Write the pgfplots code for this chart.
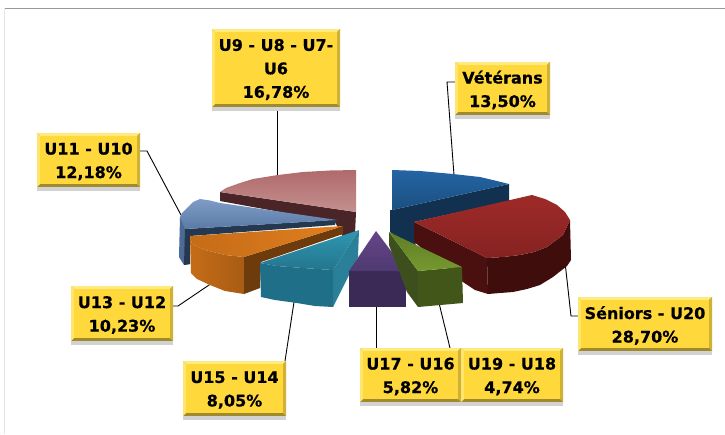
\documentclass[border=0pt]{standalone}
\usepackage{pgfplots}
\pgfplotsset{compat=1.18}
\usepackage{fontspec}
\setmainfont{DejaVu Sans}
\newfontfamily\labfont[FakeBold=0.5]{DejaVu Sans Bold}
\definecolor{boxmain}{HTML}{FFD93B}
\definecolor{boxlight}{HTML}{FFEA80}
\definecolor{boxdark}{HTML}{A08A30}
\definecolor{HTMLA}{HTML}{4A2528}
\definecolor{HTMLB}{HTML}{C49090}
\definecolor{HTMLC}{HTML}{B06A6A}
\definecolor{HTMLD}{HTML}{4D6A94}
\definecolor{HTMLE}{HTML}{24384F}
\definecolor{HTMLF}{HTML}{7E9CC6}
\definecolor{HTMLG}{HTML}{5A7BA6}
\definecolor{HTMLH}{HTML}{6E3B0C}
\definecolor{HTMLI}{HTML}{C56C18}
\definecolor{HTMLJ}{HTML}{A85C14}
\definecolor{HTMLK}{HTML}{C56C18}
\definecolor{HTMLL}{HTML}{E07F1E}
\definecolor{HTMLM}{HTML}{2A8098}
\definecolor{HTMLN}{HTML}{1F6F88}
\definecolor{HTMLO}{HTML}{2F97B0}
\definecolor{HTMLP}{HTML}{24758E}
\definecolor{HTMLQ}{HTML}{3B2A55}
\definecolor{HTMLR}{HTML}{664488}
\definecolor{HTMLS}{HTML}{4F3A72}
\definecolor{HTMLT}{HTML}{3D4F1C}
\definecolor{HTMLU}{HTML}{435619}
\definecolor{HTMLV}{HTML}{76982F}
\definecolor{HTMLW}{HTML}{5F7E25}
\definecolor{HTMLX}{HTML}{12304F}
\definecolor{HTMLY}{HTML}{2465A4}
\definecolor{HTMLZ}{HTML}{1B4F80}
\definecolor{HTMLaa}{HTML}{4A0F0F}
\definecolor{HTMLab}{HTML}{3E0D0C}
\definecolor{HTMLac}{HTML}{9E2A28}
\definecolor{HTMLad}{HTML}{852321}
\newcommand\lab[5]{%
 \addplot[draw=none,fill=gray!35] coordinates {(#1,#4) (#2,#4) (#2,#4+4) (#1,#4+4)} -- cycle;
 \addplot[draw=none,fill=boxdark] coordinates {(#1,#3) (#2,#3) (#2,#4) (#1,#4)} -- cycle;
 \addplot[draw=none,fill=boxlight] coordinates {(#1,#3) (#2,#3) (#2-3,#3+3) (#1+3,#3+3)} -- cycle;
 \addplot[draw=none,fill=boxlight!70!boxmain] coordinates {(#1,#3) (#1+3,#3+3) (#1+3,#4-3) (#1,#4)} -- cycle;
 \addplot[draw=none,fill=boxdark!50!boxmain] coordinates {(#2,#3) (#2-3,#3+3) (#2-3,#4-3) (#2,#4)} -- cycle;
 \addplot[draw=none,fill=boxmain] coordinates {(#1+3,#3+3) (#2-3,#3+3) (#2-3,#4-3) (#1+3,#4-3)} -- cycle;
 \node[align=center,font=\labfont\fontsize{16}{23.5}\selectfont,inner sep=0pt,text=black,yshift=-1.5pt] at (axis cs:{(#1+#2)/2},{(#3+#4)/2}) {#5};
}
\begin{document}
\begin{tikzpicture}
\begin{axis}[width=725pt,height=434pt,scale only axis,xmin=0,xmax=725,ymin=0,ymax=434,y dir=reverse,axis lines=none,clip=true]
\addplot[draw=none,fill=white] coordinates {(0,0) (725,0) (725,434) (0,434)} -- cycle;
% frame
\addplot[draw=gray!80,line width=1pt] coordinates {(4,8) (725,8)};
\addplot[draw=gray!20,line width=.8pt] coordinates {(4,8) (4,434)};
% leaders
\addplot[black,line width=.9pt] coordinates {(277,107) (277,178)};
\addplot[black,line width=.9pt] coordinates {(140,151) (147,151) (181,215)};
\addplot[black,line width=.9pt] coordinates {(455,82) (447,82) (454,175)};
\addplot[black,line width=.9pt] coordinates {(173,306) (178,306) (212,283)};
\addplot[black,line width=.9pt] coordinates {(285,361) (294,302)};
\addplot[black,line width=.9pt] coordinates {(376,348) (376,306)};
\addplot[black,line width=.9pt] coordinates {(450,348) (439,303)};
\addplot[black,line width=.9pt] coordinates {(578,316) (571,316) (565,262)};
% U9-U6 (pink)
\addplot[draw=none,fill=HTMLA] coordinates {(220,192) (220,201) (335,222) (343,237) (355,234) (356,212)} -- cycle;
\addplot[draw=none,top color=HTMLC,bottom color=HTMLB] coordinates {(220,192) (226,188) (240,183) (253,179) (278,175) (303,172) (330,170.5) (356,170) (356,212)} -- cycle;
% U11-U10 (blue grey)
\addplot[draw=none,fill=HTMLD] coordinates {(180,217) (179,257) (184,265) (190,264) (186,229)} -- cycle;
\addplot[draw=none,fill=HTMLE] coordinates {(185,229) (336,220) (335,225) (190,236) (190,264) (184,265)} -- cycle;
\addplot[draw=none,top color=HTMLF,bottom color=HTMLG] coordinates {(180,217) (182,213) (187,208) (193,202) (200,199) (210,200.5) (220,203) (337,220) (185,229)} -- cycle;
% U13-U12 (orange)
\addplot[draw=none,fill=HTMLH] coordinates {(244,257) (343,226) (343,234) (261,262) (260,288) (244,294)} -- cycle;
\addplot[draw=none,left color=HTMLI,right color=HTMLJ] coordinates {(190,236) (191,273) (197,279) (210,285) (225,291) (244,294) (244,257) (225,255) (205,250) (192,244)} -- cycle;
\addplot[draw=none,left color=HTMLK,right color=HTMLL] coordinates {(190,236) (343,226) (244,257) (225,255) (205,250) (192,244)} -- cycle;
% U15-U14 (teal)
\addplot[draw=none,fill=HTMLM] coordinates {(359,230) (358,257) (333,307) (333,270)} -- cycle;
\addplot[draw=none,fill=HTMLN] coordinates {(260,263) (277,266) (303,268) (333,270) (333,307) (315,306) (297,303) (275,300) (261,297)} -- cycle;
\addplot[draw=none,top color=HTMLO,bottom color=HTMLP] coordinates {(260,263) (359,230) (333,270) (303,268) (277,266)} -- cycle;
% Veterans (blue)
\addplot[draw=none,fill=HTMLX] coordinates {(392,210) (509,184) (509,201) (414,222) (416,250) (390,232) (390,210)} -- cycle;
\addplot[draw=none,top color=HTMLY,bottom color=HTMLZ] coordinates {(392,170) (420,171) (453,174) (480,177) (497,181) (509,184) (392,210)} -- cycle;
% U17-U16 (purple)
\addplot[draw=none,fill=HTMLQ] coordinates {(349,271) (406,271) (406,307) (349,307)} -- cycle;
\addplot[draw=none,top color=HTMLR,bottom color=HTMLS] coordinates {(376,231) (406,271) (349,271)} -- cycle;
% Seniors (red)
\addplot[draw=none,fill=HTMLaa] coordinates {(414,222) (414,242) (440,262) (463,282) (475,290) (488,294) (487,258)} -- cycle;
\addplot[draw=none,fill=HTMLab] coordinates {(487,258) (488,294) (500,293) (513,292) (527,289) (540,285) (553,277) (567,266) (571,260) (570,220) (563,235) (547,247) (534,252) (520,255) (503,257)} -- cycle;
\addplot[draw=none,top color=HTMLac,bottom color=HTMLad] coordinates {(414,222) (532,195) (545,199) (557,205) (565,212) (570,220) (563,235) (547,247) (534,252) (520,255) (503,257) (487,258)} -- cycle;
% U19-U18 (green), in front of the red slice
\addplot[draw=none,fill=HTMLT] coordinates {(389,232) (418,271) (418,307) (407,292) (389,245)} -- cycle;
\addplot[draw=none,fill=HTMLU] coordinates {(418,271) (462,267) (463,303) (418,307)} -- cycle;
\addplot[draw=none,top color=HTMLW,bottom color=HTMLV] coordinates {(389,232) (462,267) (418,271)} -- cycle;
% labels
\lab{212}{340}{29}{107}{U9 - U8 - U7-\\U6\\16,78\%}
\lab{37}{140}{133}{187}{U11 - U10\\12,18\%}
\lab{71}{173}{286}{341}{U13 - U12\\10,23\%}
\lab{183}{286}{361}{416}{U15 - U14\\8,05\%}
\lab{360}{461}{348}{402}{U17 - U16\\5,82\%}
\lab{461}{563}{348}{402}{U19 - U18\\4,74\%}
\lab{578}{712}{297}{351}{Séniors - U20\\28,70\%}
\lab{455}{550}{62}{115}{Vétérans\\13,50\%}
\end{axis}
\end{tikzpicture}
\end{document}
